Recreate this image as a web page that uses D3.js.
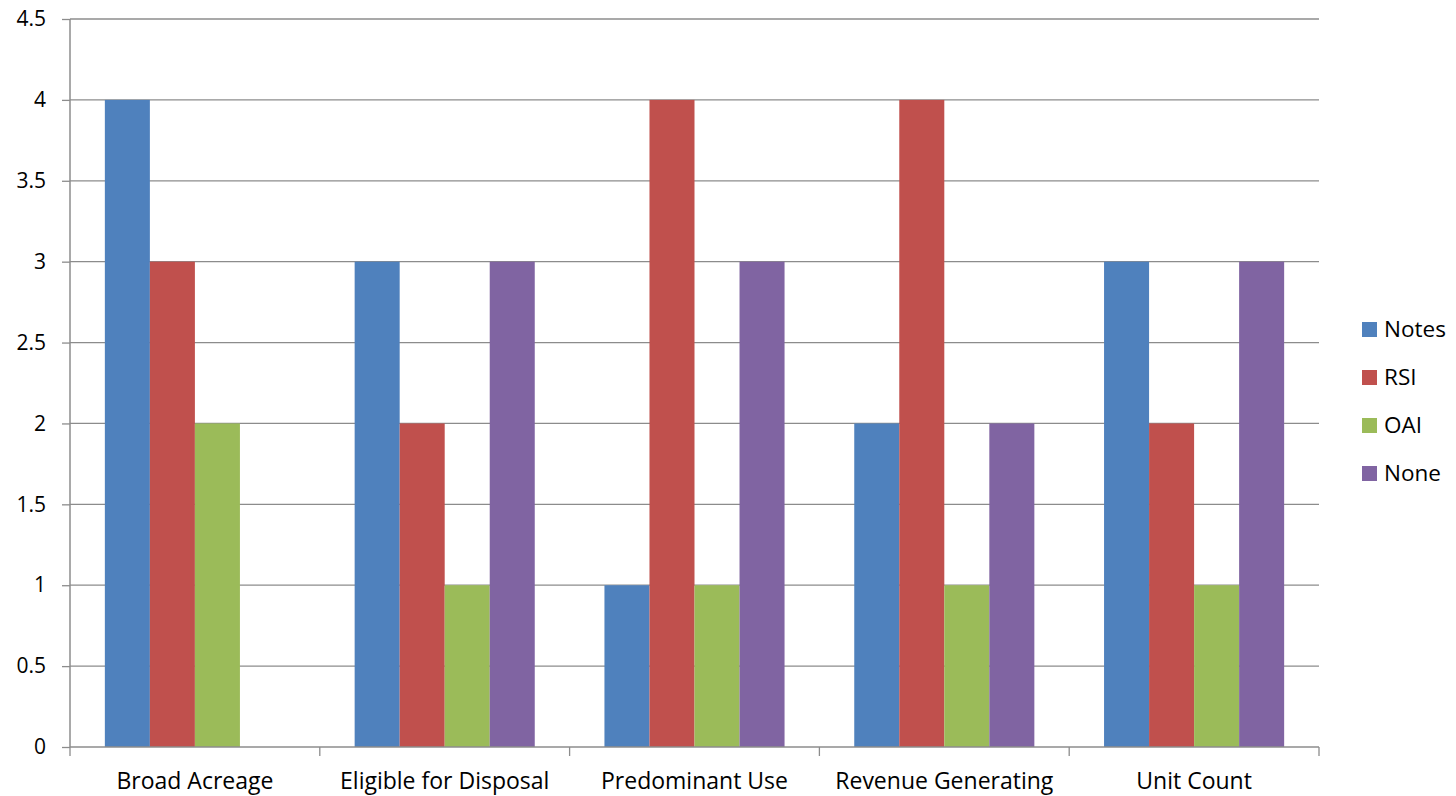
<!DOCTYPE html>
<html>
<head>
<meta charset="utf-8">
<script src="https://cdn.jsdelivr.net/npm/d3@7"></script>
<style>
  body { margin: 0; background: #fff; }
  text { font-family: "Open Sans", "DejaVu Sans", sans-serif; fill: #000; }
</style>
</head>
<body>
<svg width="1456" height="796"></svg>
<script>
'use strict';
const categories = ['Broad Acreage', 'Eligible for Disposal', 'Predominant Use', 'Revenue Generating', 'Unit Count'];
const seriesNames = ['Notes', 'RSI', 'OAI', 'None'];
const notes = [4, 3, 1, 2, 3];
const rsi = [3, 2, 4, 4, 2];
const oai = [2, 1, 1, 1, 1];
const none = [0, 3, 3, 2, 3];
const yTicks = [0, 0.5, 1, 1.5, 2, 2.5, 3, 3.5, 4, 4.5];
const COLORS = ['#4F81BD', '#C0504D', '#9BBB59', '#8064A2'];

(() => {
  const values = [notes, rsi, oai, none];
  const rows = categories.map((c, i) => ({
    cat: c,
    vals: seriesNames.map((s, k) => ({ key: s, value: values[k][i], color: COLORS[k] }))
  }));

  const svg = d3.select('svg');
  const plotLeft = 70, plotRight = 1319, plotTop = 19, plotBottom = 747;

  const x = d3.scaleBand().domain(categories).range([plotLeft, plotRight]);
  const x1 = d3.scaleBand().domain(seriesNames)
    .range([0, x.bandwidth()]).paddingOuter(0.774);
  const y = d3.scaleLinear().domain([0, 4.5]).range([plotBottom, plotTop]);

  // gridlines
  svg.append('g').selectAll('line').data(yTicks.filter(d => d > 0)).join('line')
    .attr('x1', plotLeft).attr('x2', plotRight)
    .attr('y1', d => y(d)).attr('y2', d => y(d))
    .attr('stroke', '#8c8c8c').attr('stroke-width', 1.3);

  // bars
  const groups = svg.append('g').selectAll('g').data(rows).join('g')
    .attr('transform', d => `translate(${x(d.cat)},0)`);
  groups.selectAll('rect').data(d => d.vals.filter(v => v.value > 0)).join('rect')
    .attr('x', d => x1(d.key))
    .attr('width', x1.bandwidth())
    .attr('y', d => y(d.value))
    .attr('height', d => y(0) - y(d.value))
    .attr('fill', d => d.color);

  // y axis
  const yAxis = svg.append('g').attr('transform', `translate(${plotLeft},0)`)
    .call(d3.axisLeft(y).tickValues(yTicks).tickFormat(d3.format('')).tickSize(8).tickPadding(16));
  yAxis.select('.domain').attr('stroke', '#8c8c8c').attr('stroke-width', 1.5).attr('d', `M0,${plotTop}V${plotBottom}`);
  yAxis.selectAll('.tick line').attr('stroke', '#8c8c8c').attr('stroke-width', 1.3);
  yAxis.selectAll('.tick text').style('font-size', '21px').style('font-family', '"Open Sans", sans-serif');

  // x axis
  const xAxis = svg.append('g').attr('transform', `translate(0,${plotBottom})`)
    .call(d3.axisBottom(x).tickSize(0).tickPadding(26));
  xAxis.select('.domain').attr('stroke', '#8c8c8c').attr('stroke-width', 1.5).attr('d', `M${plotLeft},0H${plotRight}`);
  xAxis.selectAll('.tick text').style('font-size', '23px').style('font-family', '"Open Sans", sans-serif');
  svg.append('g').selectAll('line').data(d3.range(categories.length + 1)).join('line')
    .attr('x1', i => plotLeft + i * x.bandwidth()).attr('x2', i => plotLeft + i * x.bandwidth())
    .attr('y1', plotBottom).attr('y2', plotBottom + 9)
    .attr('stroke', '#8c8c8c').attr('stroke-width', 1.3);

  // legend
  const legend = svg.append('g').selectAll('g').data(seriesNames).join('g')
    .attr('transform', (d, i) => `translate(1362,${329 + i * 48})`);
  legend.append('rect').attr('x', 0).attr('y', -7).attr('width', 15).attr('height', 15)
    .attr('fill', (d, i) => COLORS[i]);
  legend.append('text').attr('x', 22).attr('dy', '0.35em').style('font-size', '22.5px').text(d => d);
})();
</script>
</body>
</html>
